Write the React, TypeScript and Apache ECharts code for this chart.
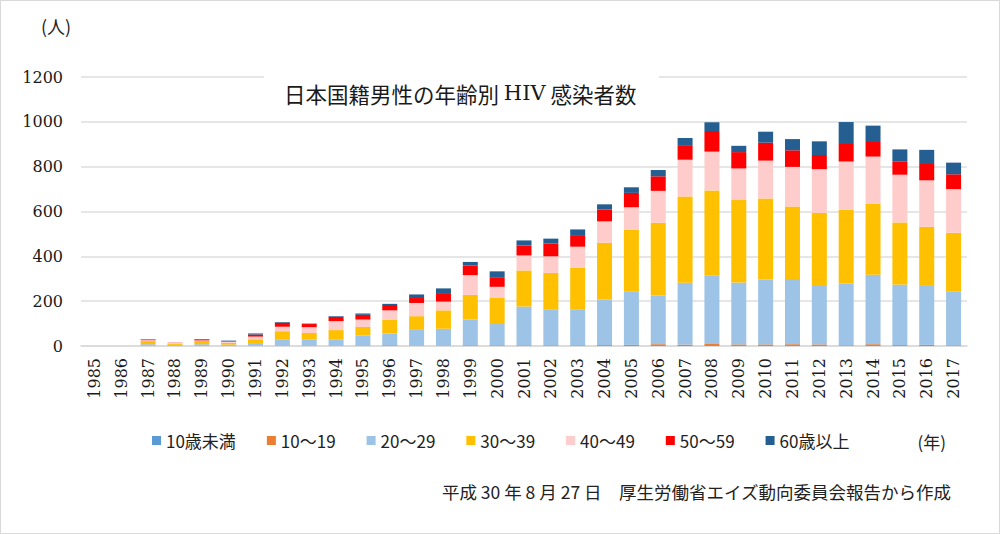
import { useEffect, useRef } from 'react';
import * as echarts from 'echarts';

const years = [
  '1985', '1986', '1987', '1988', '1989', '1990', '1991', '1992', '1993', '1994', '1995',
  '1996', '1997', '1998', '1999', '2000', '2001', '2002', '2003', '2004', '2005', '2006',
  '2007', '2008', '2009', '2010', '2011', '2012', '2013', '2014', '2015', '2016', '2017',
];

const under10 = [0, 0, 0, 0, 0, 0, 0, 0, 0, 0, 0, 0, 0, 0, 0, 0, 0, 0, 0, 0, 0, 0, 0, 0, 0, 0, 0, 0, 0, 0, 0, 0, 0];
const teens = [0, 0, 1, 0, 0, 0, 1, 2, 2, 2, 2, 3, 2, 2, 3, 3, 3, 3, 3, 4, 5, 8, 6, 9, 7, 7, 8, 7, 3, 8, 4, 5, 3];
const twenties = [0, 0, 7, 5, 8, 6, 12, 28, 28, 28, 45, 53, 70, 75, 115, 95, 173, 161, 161, 203, 237, 218, 276, 304, 276, 290, 291, 261, 276, 310, 270, 263, 239];
const thirties = [0, 0, 14, 6, 14, 8, 17, 36, 28, 41, 38, 62, 61, 82, 110, 118, 161, 162, 185, 254, 277, 324, 385, 381, 368, 361, 323, 326, 329, 316, 277, 264, 263];
const forties = [0, 0, 4, 3, 3, 5, 12, 20, 26, 40, 33, 41, 59, 39, 88, 48, 67, 74, 94, 95, 100, 142, 164, 173, 141, 169, 177, 195, 215, 211, 213, 207, 195];
const fifties = [0, 0, 3, 1, 3, 2, 9, 18, 14, 19, 21, 24, 22, 38, 43, 40, 44, 57, 48, 53, 64, 65, 65, 92, 73, 80, 74, 63, 78, 65, 58, 73, 66];
const sixties = [0, 0, 1, 0, 3, 3, 5, 3, 2, 3, 6, 5, 16, 21, 16, 29, 23, 22, 29, 23, 25, 28, 32, 39, 28, 49, 50, 61, 98, 73, 55, 63, 52];

const seriesNames = ['10歳未満', '10～19', '20～29', '30～39', '40～49', '50～59', '60歳以上'];
const seriesData = [under10, teens, twenties, thirties, forties, fifties, sixties];
const colors = ['#5B9BD5', '#ED7D31', '#9DC3E6', '#FFC000', '#FFCCCC', '#FF0000', '#255E91'];

const yTicks = { min: 0, max: 1200, interval: 200 };

const jp = '"Noto Sans CJK JP", sans-serif';
const serif = '"DejaVu Serif", serif';

export default function App() {
  const chartRef = useRef<HTMLDivElement>(null);

  useEffect(() => {
    if (!chartRef.current) return;
    const chart = echarts.init(chartRef.current, undefined, { renderer: 'svg' });

    chart.setOption({
      animation: false,
      color: colors,
      grid: { left: 80, right: 32, top: 76, bottom: 187 },
      legend: {
        left: 146,
        top: 426,
        itemWidth: 9,
        itemHeight: 9,
        itemGap: 31,
        icon: 'rect',
        textStyle: { fontFamily: jp, fontSize: 17, color: '#222' },
        data: seriesNames,
      },
      xAxis: {
        type: 'category',
        data: years,
        axisLine: { lineStyle: { color: '#d9d9d9', width: 1.5 } },
        axisTick: { show: false },
        axisLabel: {
          rotate: 90,
          interval: 0,
          margin: 12,
          fontFamily: serif,
          fontSize: 16,
          color: '#1a1a1a',
        },
      },
      yAxis: {
        type: 'value',
        ...yTicks,
        axisLine: { show: false },
        axisTick: { show: false },
        splitLine: { lineStyle: { color: '#dedede', width: 1.5 } },
        axisLabel: {
          margin: 18,
          fontFamily: serif,
          fontSize: 16,
          color: '#1a1a1a',
          formatter: (v: number) => String(v),
        },
      },
      series: seriesNames.map((name, i) => ({
        name,
        type: 'bar',
        stack: 'total',
        barWidth: 15,
        data: seriesData[i],
      })),
      graphic: [
        {
          type: 'text',
          x: 40,
          y: 25,
          style: { text: '(人)', fontFamily: jp, fontSize: 18, fill: '#222', textVerticalAlign: 'middle' },
        },
        {
          type: 'rect',
          z: 100,
          shape: { x: 263, y: 66, width: 395, height: 44 },
          style: { fill: '#fff' },
        },
        {
          type: 'text',
          z: 101,
          x: 283,
          y: 92,
          style: {
            text: '{a|日本国籍男性の年齢別 }{b|HIV}{a| 感染者数}',
            textVerticalAlign: 'middle',
            rich: {
              a: { fontFamily: jp, fontSize: 21.5, fill: '#1a1a1a' },
              b: { fontFamily: serif, fontSize: 21, fill: '#1a1a1a' },
            },
          },
        },
        {
          type: 'text',
          x: 945,
          y: 440,
          style: { text: '(年)', fontFamily: jp, fontSize: 17, fill: '#222', textAlign: 'right', textVerticalAlign: 'middle' },
        },
        {
          type: 'text',
          x: 950,
          y: 490,
          style: {
            text: '平成 30 年 8 月 27 日　厚生労働省エイズ動向委員会報告から作成',
            fontFamily: jp,
            fontSize: 17.5,
            fill: '#222',
            textAlign: 'right',
            textVerticalAlign: 'middle',
          },
        },
      ],
    });

    return () => chart.dispose();
  }, []);

  return (
    <div
      style={{
        position: 'fixed',
        left: 0,
        top: 0,
        width: 1000,
        height: 534,
        border: '1px solid #d9d9d9',
        boxSizing: 'border-box',
        background: '#fff',
      }}
    >
      <div ref={chartRef} style={{ width: 998, height: 532 }} />
    </div>
  );
}
